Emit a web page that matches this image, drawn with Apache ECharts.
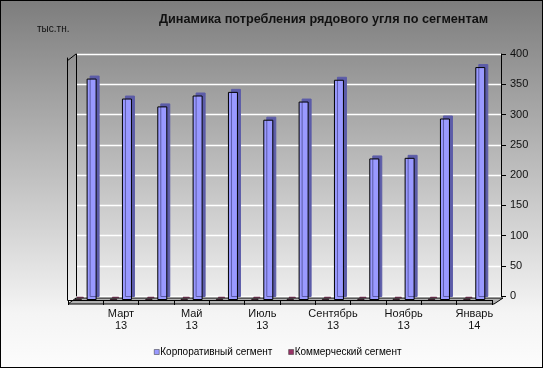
<!DOCTYPE html>
<html><head><meta charset="utf-8">
<script src="https://cdn.jsdelivr.net/npm/echarts@6/dist/echarts.min.js"></script>
<style>html,body{margin:0;padding:0;background:#fff}#c{width:543px;height:368px;box-sizing:border-box;border:1px solid #000}</style>
</head><body><div id="c"></div>
<script>
const categories = ['Февраль 13','Март 13','Апрель 13','Май 13','Июнь 13','Июль 13','Август 13','Сентябрь 13','Октябрь 13','Ноябрь 13','Декабрь 13','Январь 14'];
const corporate = [366, 333, 320, 338, 344, 298, 328, 364, 234, 235, 300, 385];
const commercial = [2, 2, 2, 2, 2, 2, 2, 2, 2, 2, 2, 2];
const seriesNames = ['Корпоративный сегмент', 'Коммерческий сегмент'];
const yTicks = {min: 0, max: 400, interval: 50};
const titleText = 'Динамика потребления рядового угля по сегментам';
const unitText = 'тыс.тн.';

const chart = echarts.init(document.getElementById('c'), null, {renderer: 'canvas'});
const font = 'Liberation Sans, Arial, sans-serif';
chart.setOption({
  animation: false,
  backgroundColor: {type: 'linear', x: 0, y: 0, x2: 0, y2: 1, colorStops: [
    {offset: 0, color: '#7d7d7d'}, {offset: 0.85, color: '#f4f4f4'}, {offset: 1, color: '#fcfcfc'}]},
  title: [
    {text: titleText, left: 153, top: 7, textStyle: {fontFamily: font, fontSize: 12.7, fontWeight: 'bold', color: '#111'}},
    {text: unitText, left: 31, top: 18, textStyle: {fontFamily: font, fontSize: 10, fontWeight: 'normal', color: '#111'}}
  ],
  legend: {
    bottom: 5, left: 148, itemWidth: 5, itemHeight: 5, itemGap: 16, icon: 'rect',
    itemStyle: {borderColor: '#333', borderWidth: 0.5, shadowColor: 'rgba(0,0,0,0)', shadowOffsetX: 0, shadowOffsetY: 0},
    textStyle: {fontFamily: font, fontSize: 10, color: '#000', padding: [0,0,0,-4]},
    data: seriesNames
  },
  grid: [
    {left: 75, right: 41, top: 53, bottom: 71},
    {left: 67, right: 50, top: 57, bottom: 67}
  ],
  xAxis: [
    {type: 'category', gridIndex: 0, data: categories, show: false},
    {type: 'category', gridIndex: 1, data: categories, position: 'bottom', offset: 2,
     axisLine: {lineStyle: {color: '#000', width: 1}},
     axisTick: {show: true, interval: 0, length: 5, lineStyle: {color: '#000'}},
     axisLabel: {interval: (i) => i % 2 === 1, formatter: (v) => v.replace(' ', '\n'),
       fontFamily: font, fontSize: 11, color: '#111', lineHeight: 12, margin: 6}}
  ],
  yAxis: [
    {type: 'value', gridIndex: 0, position: 'right', min: yTicks.min, max: yTicks.max, interval: yTicks.interval,
     axisLine: {show: true, lineStyle: {color: '#000'}},
     axisTick: {show: true, length: 5, lineStyle: {color: '#000'}},
     axisLabel: {fontFamily: font, fontSize: 11, color: '#111', margin: 9},
     splitLine: {show: true, lineStyle: {color: '#ffffff', width: 1.3}}},
    {type: 'value', gridIndex: 0, position: 'left', min: yTicks.min, max: yTicks.max,
     axisLine: {show: true, lineStyle: {color: '#000'}}, axisTick: {show: false}, axisLabel: {show: false}, splitLine: {show: false}},
    {type: 'value', gridIndex: 1, position: 'left', min: yTicks.min, max: yTicks.max, offset: 1,
     axisLine: {show: true, lineStyle: {color: '#000'}}, axisTick: {show: false}, axisLabel: {show: false}, splitLine: {show: false}}
  ],
  graphic: [
    {type: 'polygon', z: 0, shape: {points: [[67,303],[75,297],[502,297],[493,303]]},
     style: {fill: '#b0b0b0', stroke: '#000', lineWidth: 1}},
    {type: 'line', z: 0, shape: {x1: 66, y1: 60, x2: 75, y2: 53}, style: {stroke: '#000', lineWidth: 1}}
  ],
  series: [
    {name: seriesNames[1], type: 'bar', xAxisIndex: 1, yAxisIndex: 2, data: commercial, barWidth: 7, barGap: '70%',
     itemStyle: {color: '#993366', borderColor: '#000', borderWidth: 0.6, shadowColor: '#5a1f3c', shadowOffsetX: 2, shadowOffsetY: -2, shadowBlur: 0}},
    {name: seriesNames[0], type: 'bar', xAxisIndex: 1, yAxisIndex: 2, data: corporate, barWidth: 10, barGap: '70%',
     itemStyle: {color: '#9999ff', borderColor: '#000', borderWidth: 1, shadowColor: '#5c5ca8', shadowOffsetX: 3, shadowOffsetY: -3, shadowBlur: 0}}
  ]
});
</script></body></html>
